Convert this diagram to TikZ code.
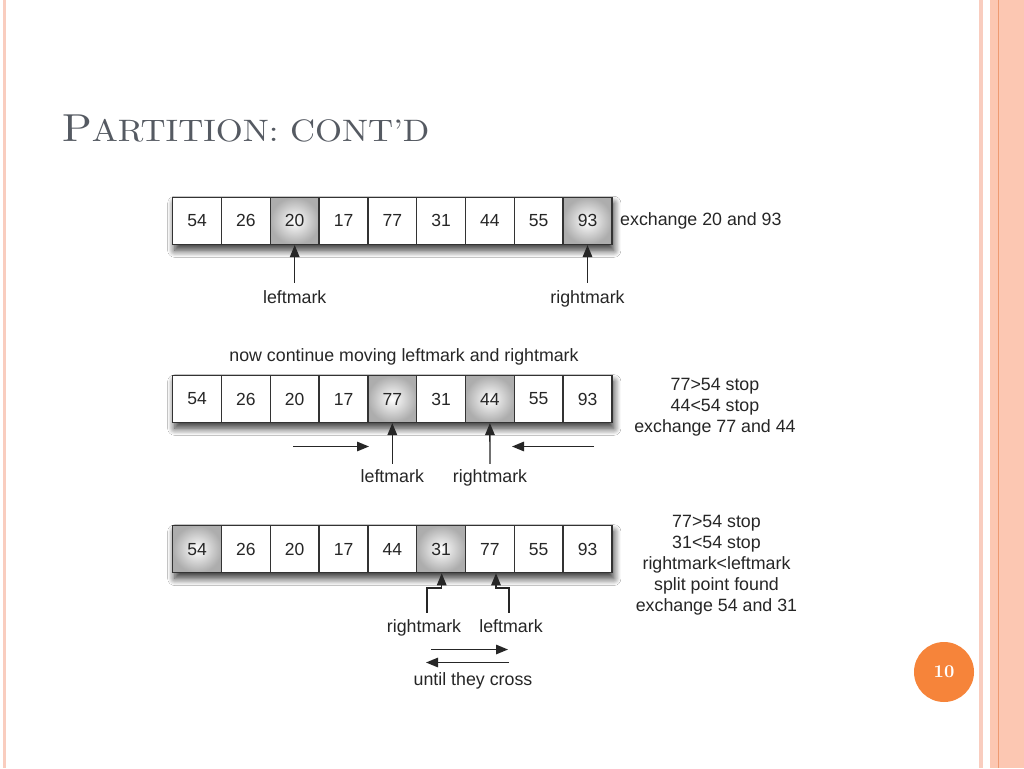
\documentclass[tikz,border=0pt]{standalone}
\usepackage{fontspec}
\newfontfamily\labfont{Liberation Sans}
\newfontfamily\titlefont{lmroman10-regular.otf}[BoldFont=lmroman10-bold.otf]
\usetikzlibrary{shadows.blur,arrows.meta}
\definecolor{pinkl}{HTML}{F9CDBF}
\definecolor{pinkf}{HTML}{FCC7B2}
\definecolor{pinkline}{HTML}{EE9A72}
\definecolor{pageorange}{HTML}{F6843A}
\definecolor{titlecol}{HTML}{555A62}
\definecolor{celltext}{HTML}{262626}
\begin{document}
\begin{tikzpicture}[x=1pt,y=-1pt,
  cell/.style={draw=black!80, line width=1.5pt, minimum width=48.8pt, minimum height=47pt, inner sep=0pt,
    font=\labfont\fontsize{17.5}{20}\selectfont, text=celltext},
  hl/.style={inner color=white, outer color=black!32},
  rowbg/.style={fill=white, blur shadow={shadow xshift=2pt, shadow yshift=-6pt, shadow blur radius=7pt, shadow blur steps=12, shadow opacity=80}},
  lab/.style={font=\labfont\fontsize{17.8}{21}\selectfont, text=celltext, inner sep=1pt},
  arr/.style={-{Triangle[length=12pt,width=9.5pt]}, line width=1.4pt, draw=black!85}]
\useasboundingbox (0,0) rectangle (1024,768);
\fill[white] (0,0) rectangle (1024,768);
% slide borders
\fill[pinkl] (3,0) rectangle (6,768);
\fill[pinkl] (979,0) rectangle (983,768);
\fill[pinkf] (990,0) rectangle (1024,768);
\draw[pinkline, line width=1pt] (998,0) -- (998,768);
% title
\node[anchor=base west, text=titlecol, inner sep=0pt] (title) at (62,141)
  {\scalebox{1.12}[1]{\titlefont\fontsize{39}{40}\selectfont P\fontsize{31}{32}\selectfont ARTITION: CONT’D}};
% page number
\node[circle, fill=pageorange, minimum size=60pt, inner sep=0pt, text=white,
  font=\titlefont\bfseries\fontsize{18}{20}\selectfont] (page) at (944,672) {10};

% ---------- row 1 ----------
\fill[rowbg] (172.7,197.3) rectangle (611.9,244.3);
\foreach \i in {2,8} \shade[hl] ({172.7+48.8*\i},197.3) rectangle ({172.7+48.8*(\i+1)},244.3);
\foreach \v [count=\i from 0] in {54,26,20,17,77,31,44,55,93}
  \node[cell] (a\i) at ({172.7+48.8*(\i+0.5)},220.8) {\v};
\node[lab, anchor=west] (t1) at (619,221) {exchange 20 and 93};
\node[lab, anchor=base] (l1) at (294.7,303) {leftmark};
\node[lab, anchor=base] (r1) at (587.5,303) {rightmark};
\draw[arr, shorten <=6pt] (l1.north) -- (a2.south);
\draw[arr, shorten <=6pt] (r1.north) -- (a8.south);

% ---------- row 2 ----------
\node[lab, anchor=base] (t2a) at (404,361) {now continue moving leftmark and rightmark};
\fill[rowbg] (172.7,375.7) rectangle (611.9,422.3);
\foreach \i in {4,6} \shade[hl] ({172.7+48.8*\i},375.7) rectangle ({172.7+48.8*(\i+1)},422.3);
\foreach \v [count=\i from 0] in {54,26,20,17,77,31,44,55,93}
  \node[cell, minimum height=46.6pt] (b\i) at ({172.7+48.8*(\i+0.5)},399) {\v};
\node[lab, align=center] (t2) at (715,407.5) {77>54 stop\\44<54 stop\\exchange 77 and 44};
\node[lab, anchor=base] (l2) at (392.3,482) {leftmark};
\node[lab, anchor=base] (r2) at (490,482) {rightmark};
\draw[arr, shorten <=4pt] (l2.north) -- (b4.south);
\draw[arr, shorten <=4pt] (r2.north) -- (b6.south);
\coordinate (h1s) at (293,446.5);
\coordinate (h1e) at (369,446.5);
\coordinate (h2s) at (594,446.5);
\coordinate (h2e) at (512,446.5);
\draw[arr] (h1s) -- (h1e);
\draw[arr] (h2s) -- (h2e);

% ---------- row 3 ----------
\fill[rowbg] (172.7,525.7) rectangle (611.9,572.5);
\foreach \i in {0,5} \shade[hl] ({172.7+48.8*\i},525.7) rectangle ({172.7+48.8*(\i+1)},572.5);
\foreach \v [count=\i from 0] in {54,26,20,17,44,31,77,55,93}
  \node[cell, minimum height=46.8pt] (c\i) at ({172.7+48.8*(\i+0.5)},549.1) {\v};
\node[lab, align=center] (t3) at (716.5,565) {77>54 stop\\31<54 stop\\rightmark<leftmark\\split point found\\exchange 54 and 31};
\node[lab, anchor=base] (r3) at (424,632) {rightmark};
\node[lab, anchor=base] (l3) at (511,632) {leftmark};
\coordinate (k1a) at (427,588);
\coordinate (k1) at (441.7,588);
\coordinate (k2a) at (509,588);
\coordinate (k2) at (496,588);
\draw[arr, shorten <=5pt] (r3.north -| k1a) |- (k1) -- (c5.south -| k1);
\draw[arr, shorten <=5pt] (l3.north -| k2a) |- (k2) -- (c6.south -| k2);
\coordinate (u1s) at (431,649.5);
\coordinate (u1e) at (508,649.5);
\coordinate (u2s) at (509,662.5);
\coordinate (u2e) at (426,662.5);
\draw[arr] (u1s) -- (u1e);
\draw[arr] (u2s) -- (u2e);
\node[lab, anchor=base] (cross) at (473,685) {until they cross};
\end{tikzpicture}
\end{document}
